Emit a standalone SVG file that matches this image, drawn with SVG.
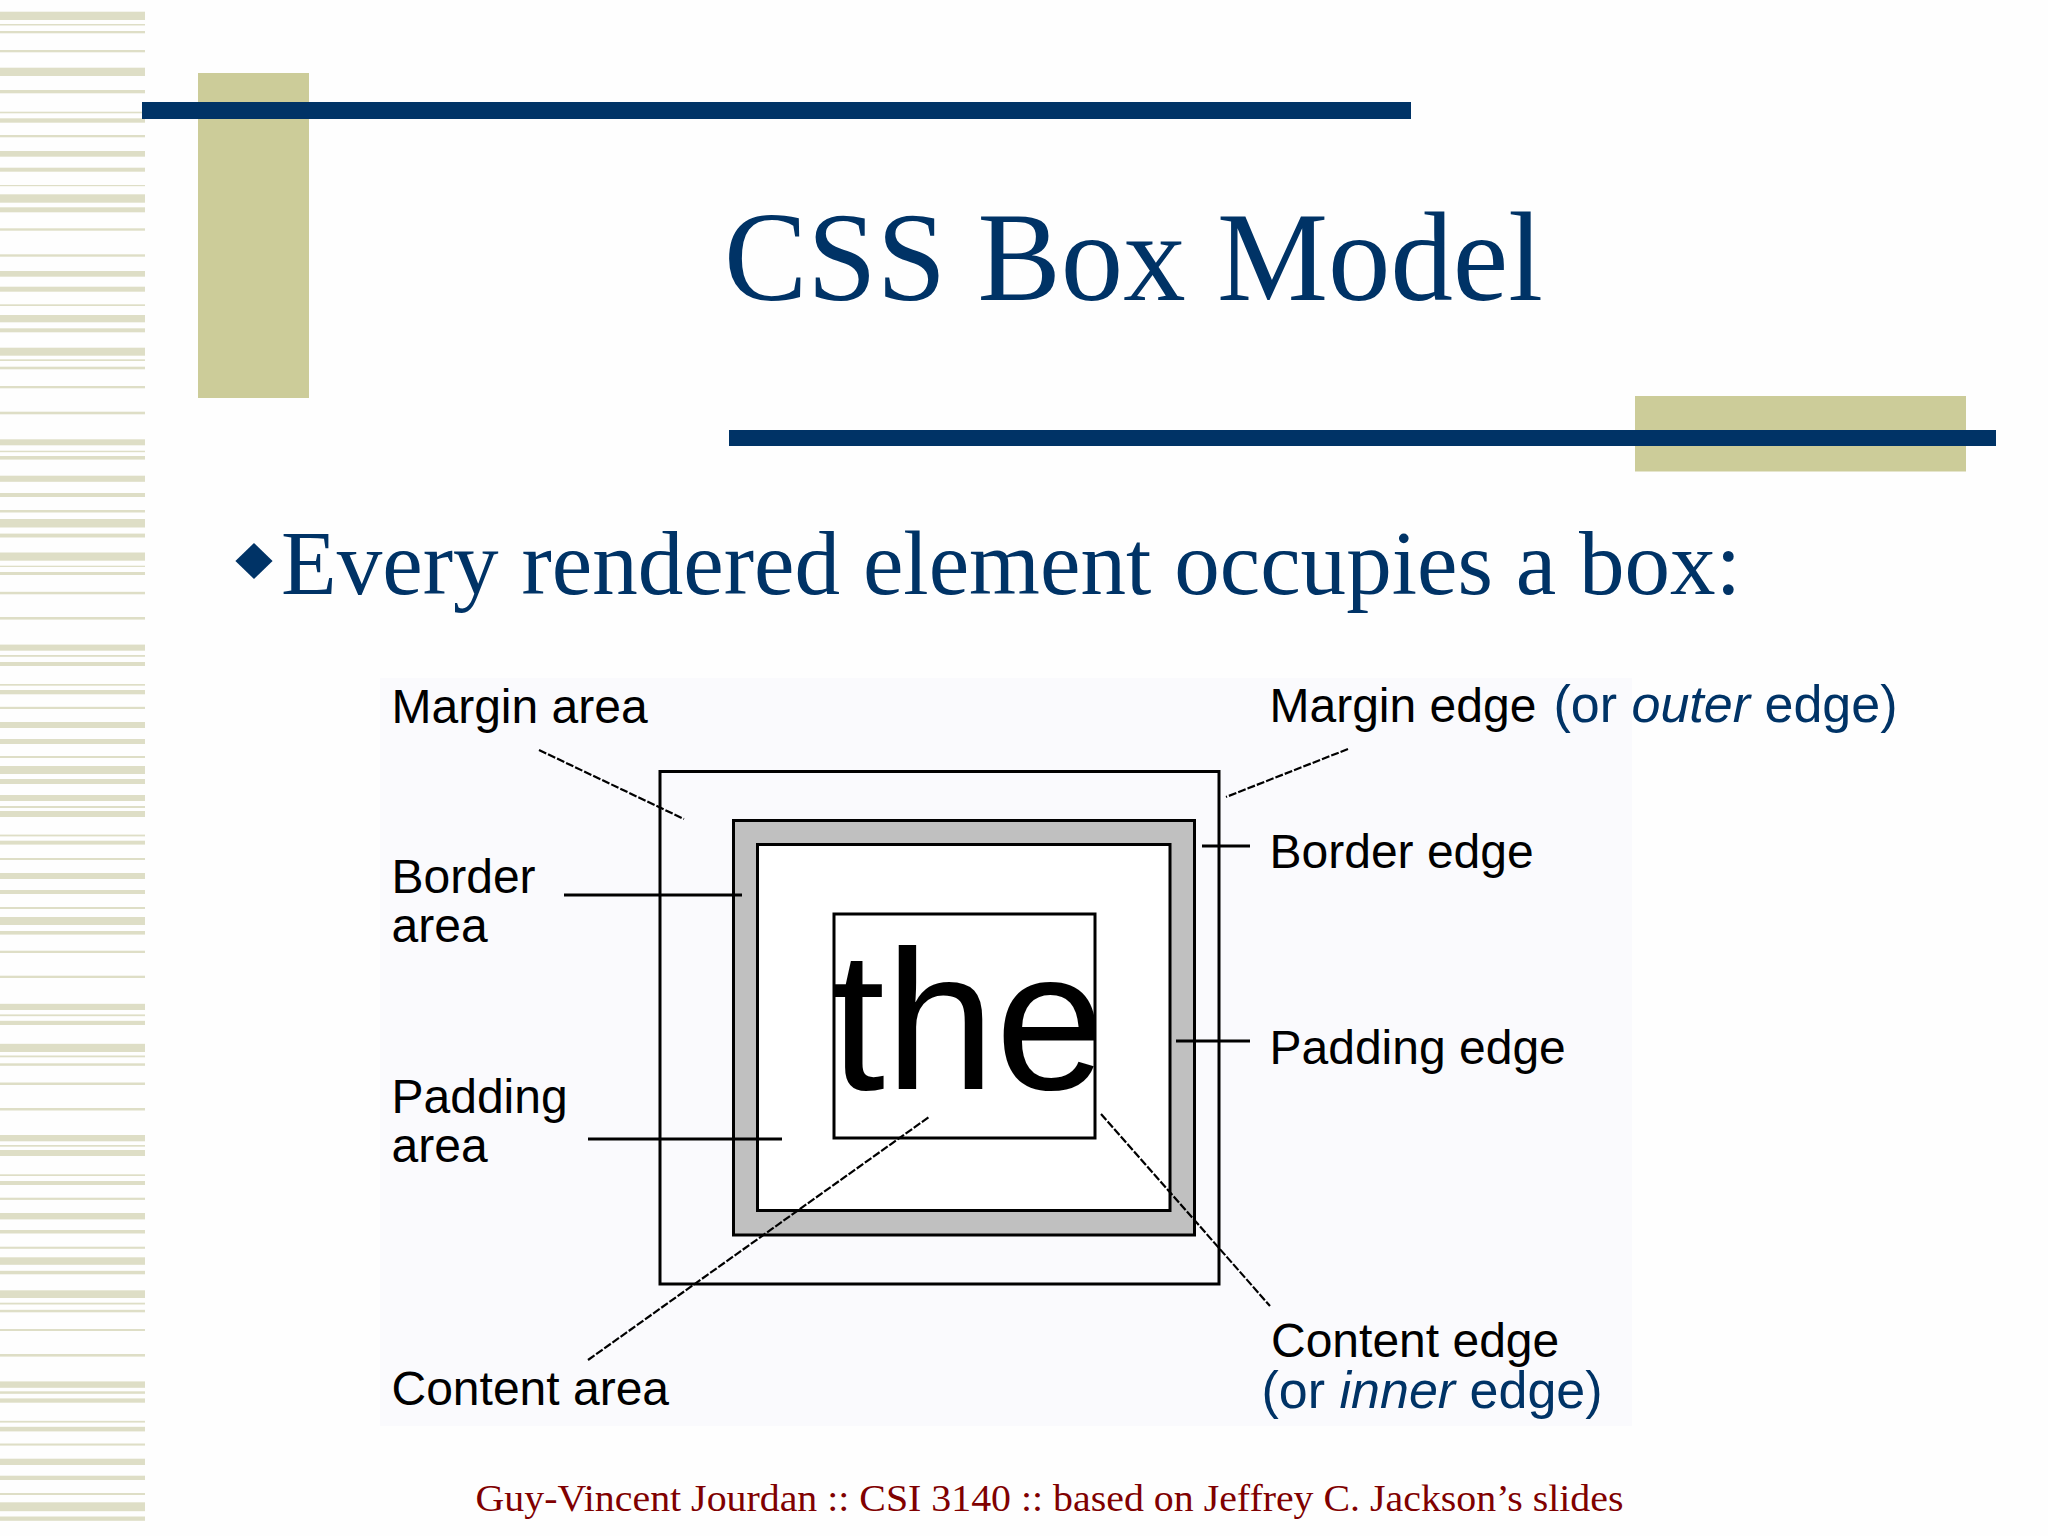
<svg xmlns="http://www.w3.org/2000/svg" width="2048" height="1536" viewBox="0 0 2048 1536">
  <style>
    .st { fill: #dedec6; }
    .olive { fill: #cccc99; }
    .navy { fill: #003366; }
    .title { font-family: "Liberation Serif", "Times New Roman", serif; fill: #003366; }
    .lbl { font-family: "Liberation Sans", Arial, sans-serif; font-size: 48px; fill: #000000; }
    .blue { font-family: "Liberation Sans", Arial, sans-serif; font-size: 52px; fill: #003366; }
    .box { fill: none; stroke: #000000; stroke-width: 3; }
    .solid { stroke: #000000; stroke-width: 3; fill: none; }
    .dash { stroke: #000000; stroke-width: 2.2; stroke-dasharray: 8 2; fill: none; }
  </style>
  <defs>
    <clipPath id="contentClip">
      <rect x="835" y="915" width="259" height="222"/>
    </clipPath>
  </defs>

  <rect x="0" y="0" width="2048" height="1536" fill="#fefefe"/>

  <g id="stripes">
    <rect class="st" x="0" y="11.7" width="145" height="8.3"/>
    <rect class="st" x="0" y="24" width="145" height="1.5"/>
    <rect class="st" x="0" y="31" width="145" height="2.3"/>
    <rect class="st" x="0" y="50" width="145" height="2.3"/>
    <rect class="st" x="0" y="67.7" width="145" height="8.3"/>
    <rect class="st" x="0" y="90" width="145" height="3.3"/>
    <rect class="st" x="0" y="111.7" width="145" height="1.6"/>
    <rect class="st" x="0" y="118.3" width="145" height="4.4"/>
    <rect class="st" x="0" y="135" width="145" height="2.3"/>
    <rect class="st" x="0" y="151" width="145" height="5.7"/>
    <rect class="st" x="0" y="167.7" width="145" height="4"/>
    <rect class="st" x="0" y="185" width="145" height="1.2"/>
    <rect class="st" x="0" y="194.3" width="145" height="8.4"/>
    <rect class="st" x="0" y="207.3" width="145" height="5"/>
    <rect class="st" x="0" y="228.3" width="145" height="2.4"/>
    <rect class="st" x="0" y="254.3" width="145" height="2.4"/>
    <rect class="st" x="0" y="271" width="145" height="5.7"/>
    <rect class="st" x="0" y="286.7" width="145" height="5"/>
    <rect class="st" x="0" y="304.3" width="145" height="1.7"/>
    <rect class="st" x="0" y="315" width="145" height="7.3"/>
    <rect class="st" x="0" y="328.3" width="145" height="4"/>
    <rect class="st" x="0" y="347.7" width="145" height="8"/>
    <rect class="st" x="0" y="359.3" width="145" height="1.7"/>
    <rect class="st" x="0" y="366.7" width="145" height="2.6"/>
    <rect class="st" x="0" y="386" width="145" height="2.3"/>
    <rect class="st" x="0" y="411.7" width="145" height="2.6"/>
    <rect class="st" x="0" y="439.3" width="145" height="6"/>
    <rect class="st" x="0" y="450.7" width="145" height="1.5"/>
    <rect class="st" x="0" y="456" width="145" height="3.6"/>
    <rect class="st" x="0" y="475.7" width="145" height="6.1"/>
    <rect class="st" x="0" y="493" width="145" height="4"/>
    <rect class="st" x="0" y="510" width="145" height="2.5"/>
    <rect class="st" x="0" y="519" width="145" height="8.5"/>
    <rect class="st" x="0" y="533.6" width="145" height="3.9"/>
    <rect class="st" x="0" y="552.5" width="145" height="8.2"/>
    <rect class="st" x="0" y="565.7" width="145" height="1.3"/>
    <rect class="st" x="0" y="572" width="145" height="3"/>
    <rect class="st" x="0" y="591.8" width="145" height="2.5"/>
    <rect class="st" x="0" y="617" width="145" height="2.6"/>
    <rect class="st" x="0" y="644.6" width="145" height="6.1"/>
    <rect class="st" x="0" y="655" width="145" height="1.8"/>
    <rect class="st" x="0" y="662" width="145" height="4"/>
    <rect class="st" x="0" y="684" width="145" height="1.7"/>
    <rect class="st" x="0" y="690" width="145" height="4.3"/>
    <rect class="st" x="0" y="706.8" width="145" height="2.2"/>
    <rect class="st" x="0" y="722" width="145" height="6"/>
    <rect class="st" x="0" y="739" width="145" height="5"/>
    <rect class="st" x="0" y="756" width="145" height="2"/>
    <rect class="st" x="0" y="766" width="145" height="8"/>
    <rect class="st" x="0" y="779" width="145" height="5"/>
    <rect class="st" x="0" y="795" width="145" height="6"/>
    <rect class="st" x="0" y="806" width="145" height="2"/>
    <rect class="st" x="0" y="811" width="145" height="6"/>
    <rect class="st" x="0" y="834.6" width="145" height="1.8"/>
    <rect class="st" x="0" y="840.7" width="145" height="3.9"/>
    <rect class="st" x="0" y="858" width="145" height="2"/>
    <rect class="st" x="0" y="873" width="145" height="6"/>
    <rect class="st" x="0" y="890" width="145" height="4"/>
    <rect class="st" x="0" y="907" width="145" height="2"/>
    <rect class="st" x="0" y="917" width="145" height="8"/>
    <rect class="st" x="0" y="931" width="145" height="3.6"/>
    <rect class="st" x="0" y="950.7" width="145" height="2.3"/>
    <rect class="st" x="0" y="975.7" width="145" height="2.3"/>
    <rect class="st" x="0" y="1003.8" width="145" height="6.2"/>
    <rect class="st" x="0" y="1014.4" width="145" height="1.8"/>
    <rect class="st" x="0" y="1020.8" width="145" height="4.2"/>
    <rect class="st" x="0" y="1043.8" width="145" height="8.2"/>
    <rect class="st" x="0" y="1055.5" width="145" height="1.8"/>
    <rect class="st" x="0" y="1063.3" width="145" height="2.5"/>
    <rect class="st" x="0" y="1082.5" width="145" height="2.5"/>
    <rect class="st" x="0" y="1108" width="145" height="2.5"/>
    <rect class="st" x="0" y="1135" width="145" height="6.3"/>
    <rect class="st" x="0" y="1145" width="145" height="1.7"/>
    <rect class="st" x="0" y="1150" width="145" height="6"/>
    <rect class="st" x="0" y="1174.3" width="145" height="1.7"/>
    <rect class="st" x="0" y="1181" width="145" height="4"/>
    <rect class="st" x="0" y="1197.7" width="145" height="2.2"/>
    <rect class="st" x="0" y="1213" width="145" height="6.4"/>
    <rect class="st" x="0" y="1230" width="145" height="3.5"/>
    <rect class="st" x="0" y="1246.7" width="145" height="2.1"/>
    <rect class="st" x="0" y="1257.3" width="145" height="7.5"/>
    <rect class="st" x="0" y="1270.8" width="145" height="3.5"/>
    <rect class="st" x="0" y="1290.3" width="145" height="7.7"/>
    <rect class="st" x="0" y="1302.7" width="145" height="1.8"/>
    <rect class="st" x="0" y="1309.8" width="145" height="2.5"/>
    <rect class="st" x="0" y="1329" width="145" height="2"/>
    <rect class="st" x="0" y="1354" width="145" height="2.6"/>
    <rect class="st" x="0" y="1381.4" width="145" height="6.4"/>
    <rect class="st" x="0" y="1391.3" width="145" height="2.5"/>
    <rect class="st" x="0" y="1398.4" width="145" height="4.3"/>
    <rect class="st" x="0" y="1420.8" width="145" height="1.8"/>
    <rect class="st" x="0" y="1426.8" width="145" height="4.6"/>
    <rect class="st" x="0" y="1443.5" width="145" height="2.1"/>
    <rect class="st" x="0" y="1458.7" width="145" height="6.3"/>
    <rect class="st" x="0" y="1475.7" width="145" height="4.3"/>
    <rect class="st" x="0" y="1493" width="145" height="2"/>
    <rect class="st" x="0" y="1502.3" width="145" height="8.9"/>
    <rect class="st" x="0" y="1516.5" width="145" height="4.3"/>
  </g>

  <g id="decor">
    <rect class="olive" x="198" y="73" width="111" height="325"/>
    <rect class="olive" x="1635" y="396" width="331" height="75.5"/>
    <rect class="navy" x="142" y="102" width="1269" height="17"/>
    <rect class="navy" x="729" y="430" width="1267" height="16"/>
  </g>

  <g id="title">
    <text class="title" x="724" y="300" font-size="128" textLength="819" lengthAdjust="spacingAndGlyphs">CSS Box Model</text>
  </g>

  <g id="bullet">
    <polygon class="navy" points="254,543 272.6,561 254,579 235.4,561"/>
    <text class="title" x="281" y="594" font-size="91" textLength="1460" lengthAdjust="spacingAndGlyphs">Every rendered element occupies a box:</text>
  </g>

  <rect id="diagram-bg" x="380" y="678" width="1252" height="748" fill="#fafafd"/>

  <g id="margin-box">
    <rect class="box" x="660" y="771.5" width="559" height="512.5"/>
  </g>
  <g id="border-box">
    <rect x="733.5" y="820.5" width="461" height="414.5" fill="#c0c0c0" stroke="#000000" stroke-width="3"/>
  </g>
  <g id="padding-box">
    <rect x="757.5" y="844.5" width="412.5" height="366" fill="#ffffff" stroke="#000000" stroke-width="3"/>
  </g>
  <g id="content-box">
    <rect x="834" y="914" width="261" height="224" fill="#ffffff" stroke="#000000" stroke-width="3"/>
    <text x="830" y="1089" font-family="Liberation Sans, Arial, sans-serif" font-size="198" fill="#000000" clip-path="url(#contentClip)">the</text>
  </g>

  <g id="connectors">
    <line class="dash" x1="539" y1="750" x2="684" y2="819"/>
    <line class="solid" x1="564" y1="895" x2="742" y2="895"/>
    <line class="solid" x1="588" y1="1139" x2="782" y2="1139"/>
    <line class="dash" x1="588" y1="1360" x2="929" y2="1117"/>
    <line class="dash" x1="1348" y1="749" x2="1226" y2="797"/>
    <line class="solid" x1="1202" y1="846" x2="1250" y2="846"/>
    <line class="solid" x1="1176" y1="1041" x2="1250" y2="1041"/>
    <line class="dash" x1="1101" y1="1114" x2="1270" y2="1306"/>
  </g>

  <g id="label-margin-area"><text class="lbl" x="391.5" y="723">Margin area</text></g>
  <g id="label-border-area"><text class="lbl" x="391.5" y="893">Border</text><text class="lbl" x="391.5" y="942">area</text></g>
  <g id="label-padding-area"><text class="lbl" x="391.5" y="1113">Padding</text><text class="lbl" x="391.5" y="1162">area</text></g>
  <g id="label-content-area"><text class="lbl" x="391.5" y="1405">Content area</text></g>

  <g id="label-margin-edge">
    <text class="lbl" x="1269.5" y="722">Margin edge</text>
    <text class="blue" x="1553.5" y="722">(or <tspan font-style="italic">outer</tspan> edge)</text>
  </g>
  <g id="label-border-edge"><text class="lbl" x="1269.5" y="868">Border edge</text></g>
  <g id="label-padding-edge"><text class="lbl" x="1269.5" y="1064">Padding edge</text></g>
  <g id="label-content-edge">
    <text class="lbl" x="1271" y="1357">Content edge</text>
    <text class="blue" x="1261.5" y="1408">(or <tspan font-style="italic">inner</tspan> edge)</text>
  </g>

  <g id="footer">
    <text x="475.5" y="1511" font-family="Liberation Serif, Times New Roman, serif" font-size="38" fill="#800000" textLength="1148" lengthAdjust="spacingAndGlyphs">Guy-Vincent Jourdan :: CSI 3140 :: based on Jeffrey C. Jackson’s slides</text>
  </g>
</svg>
